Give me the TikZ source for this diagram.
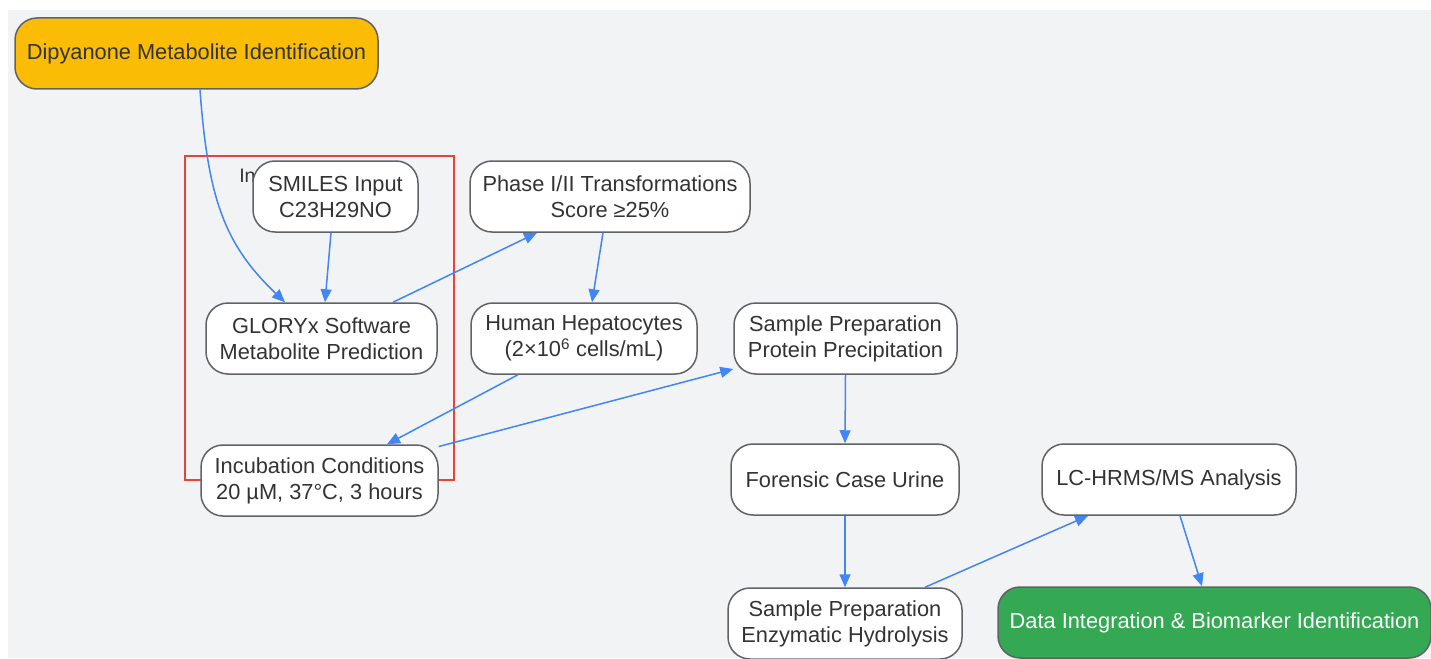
\documentclass[tikz,border=0pt]{standalone}
\usepackage{fontspec}
\setmainfont{Liberation Sans}
\usetikzlibrary{arrows.meta}
\definecolor{bggrey}{HTML}{F2F3F5}
\definecolor{edgegrey}{HTML}{5F6368}
\definecolor{txtgrey}{HTML}{333333}
\definecolor{flowblue}{HTML}{4285F4}
\definecolor{boxred}{HTML}{EA4335}
\definecolor{startamber}{HTML}{FBBC05}
\definecolor{endgreen}{HTML}{34A853}
\tikzset{
	stepnode/.style={draw=edgegrey, line width=1.5pt, fill=white, rounded corners=22pt,
		minimum height=71pt, align=center, text=txtgrey, inner sep=0pt,
		font=\fontsize{21.8}{26}\selectfont},
	flow/.style={draw=flowblue, line width=1.5pt, -{Triangle[length=13pt,width=11pt]}},
}

\begin{document}
\begin{tikzpicture}[x=1pt, y=-1pt]
			%%%%% START %%%%%
			\useasboundingbox (0, 0) rectangle (1431, 658);
			\fill[bggrey] (8, 10) rectangle (1431, 658);
			
			% prediction group
			\draw[boxred, line width=1.5pt] (185, 156) rectangle (454, 480);
			\node[text=txtgrey, font=\fontsize{19.5}{24}\selectfont] (grouplabel) at (319.5, 176) {In Silico Prediction};
			
			\node[stepnode, fill=startamber, minimum width=363pt] (dipyanone) at (196.5, 53.5) {Dipyanone Metabolite Identification};
			\node[stepnode, minimum width=165pt] (smiles) at (335.5, 196.5) {SMILES Input\\C23H29NO};
			\node[stepnode, minimum width=280pt] (phase) at (610, 196.5) {Phase I/II Transformations\\Score ≥25\%};
			\node[stepnode, minimum width=231pt] (gloryx) at (321.5, 338.5) {GLORYx Software\\Metabolite Prediction};
			\node[stepnode, minimum width=226pt] (hepato) at (584, 338.5) {Human Hepatocytes\\(2×10\textsuperscript{6} cells/mL)};
			\node[stepnode, minimum width=223pt] (protein) at (845.5, 338.5) {Sample Preparation\\Protein Precipitation};
			\node[stepnode, minimum width=237pt] (incub) at (319.5, 480.5) {Incubation Conditions\\20 µM, 37°C, 3 hours};
			\node[stepnode, minimum width=228pt] (urine) at (845, 479.5) {Forensic Case Urine};
			\node[stepnode, minimum width=254pt] (lcms) at (1169, 479.5) {LC-HRMS/MS Analysis};
			\node[stepnode, minimum width=234pt] (hydro) at (845, 623.5) {Sample Preparation\\Enzymatic Hydrolysis};
			\node[stepnode, fill=endgreen, text=white, minimum width=433pt] (biomark) at (1214.5, 622.5) {Data Integration \& Biomarker Identification};
			
			% connectors
			\draw[flow] ([xshift=3.5pt]dipyanone.south) .. controls (208, 200) and (225, 245) .. ([xshift=-36.5pt]gloryx.north);
			\draw[flow] ([xshift=-4.5pt]smiles.south) -- ([xshift=3.5pt]gloryx.north);
			\draw[flow] ([xshift=71.5pt]gloryx.north) -- ([xshift=-73pt]phase.south);
			\draw[flow] ([xshift=-7pt]phase.south) -- ([xshift=8pt]hepato.north);
			\draw[flow] ([xshift=-66pt]hepato.south) -- ([xshift=67.5pt]incub.north);
			\draw[flow] ([yshift=34pt]incub.east) -- ([yshift=-30.5pt]protein.west);
			\draw[flow] (protein.south) -- (urine.north);
			\draw[flow] (urine.south) -- (hydro.north);
			\draw[flow] ([xshift=80pt]hydro.north) -- ([xshift=-81pt]lcms.south);
			\draw[flow] ([xshift=11pt]lcms.south) -- ([xshift=-12.5pt]biomark.north);
			%%%%% END %%%%%
		\end{tikzpicture}
\end{document}
